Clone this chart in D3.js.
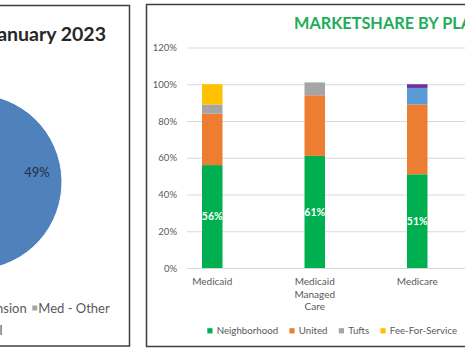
<!DOCTYPE html>
<html>
<head>
<meta charset="utf-8">
<script src="https://cdn.jsdelivr.net/npm/d3@7"></script>
<style>
  body { margin: 0; background: #fff; }
  svg { display: block; font-family: Lato, "Open Sans", sans-serif; }
</style>
</head>
<body>
<svg id="chart" width="465" height="351"></svg>
<script>
// left pie (mostly cropped off)
const pieLabels = ["Medicare", "Med - Expansion", "Med - Other", "Dual"];
const pieValues = [0.49, 0.33, 0.12, 0.06];
const pieColors = ["#4f81bd", "#ed7d31", "#a5a5a5", "#ffc000"];

// right stacked bars
const categories = ["Medicaid", "Medicaid Managed Care", "Medicare"];
const categoryLines = [["Medicaid"], ["Medicaid", "Managed", "Care"], ["Medicare"]];
const seriesNames = ["Neighborhood", "United", "Tufts", "Fee-For-Service", "BCBS", "Other"];
const seriesColors = ["#00b050", "#ed7d31", "#a5a5a5", "#ffc000", "#5b9bd5", "#7030a0"];
const neighborhood = [0.56, 0.61, 0.51];
const united = [0.28, 0.33, 0.38];
const tufts = [0.05, 0.07, 0];
const feeForService = [0.11, 0, 0];
const bcbs = [0, 0, 0.09];
const other = [0, 0, 0.02];
const yTicks = [0, 0.2, 0.4, 0.6, 0.8, 1.0, 1.2];

const svg = d3.select("#chart");

// ---- panel frames
svg.append("rect")
  .attr("x", -20).attr("y", 5.5)
  .attr("width", 149.5).attr("height", 340.5)
  .attr("fill", "none").attr("stroke", "#3f3f3f").attr("stroke-width", 1.5);

svg.append("rect")
  .attr("x", 146.5).attr("y", 4.5)
  .attr("width", 400).attr("height", 342)
  .attr("fill", "none").attr("stroke", "#3f3f3f").attr("stroke-width", 1.5);

// ---- left: pie
svg.append("text")
  .attr("x", 106).attr("y", 41)
  .attr("text-anchor", "end")
  .attr("font-size", 19.5).attr("font-weight", 700)
  .attr("fill", "#262626")
  .text("January 2023");

const pieG = svg.append("g").attr("transform", "translate(-26,182)");
const pie = d3.pie().sort(null).value((d) => d);
const arcs = pie(pieValues);
const arc = d3.arc().innerRadius(0).outerRadius(88);
const labelArc = d3.arc().innerRadius(63).outerRadius(63);

pieG.selectAll("path")
  .data(arcs)
  .join("path")
  .attr("d", arc)
  .attr("fill", (d, i) => pieColors[i])
  .attr("stroke", "#fff")
  .attr("stroke-width", 1);

pieG.selectAll(".pie-label")
  .data(arcs)
  .join("text")
  .attr("class", "pie-label")
  .attr("transform", (d) => `translate(${labelArc.centroid(d)})`)
  .attr("dy", "-0.2em")
  .attr("text-anchor", "middle")
  .attr("font-size", 13)
  .attr("fill", "#1f2f45")
  .text((d) => d3.format(".0%")(d.data));

// pie legend: first row ends with "Med - Other", second row holds the rest
const pieLegend = svg.append("g").attr("font-size", 13).attr("fill", "#595959");
const row1 = pieLegend.append("g");
let px = 0;
const row1Pos = [];
pieLabels.slice(0, 3).forEach((label, i) => {
  row1.append("rect")
    .attr("x", px).attr("y", 305.5)
    .attr("width", 5).attr("height", 5)
    .attr("fill", pieColors[i]);
  const t = row1.append("text").attr("x", px + 6).attr("y", 312.5).text(label);
  row1Pos.push(px);
  px += 6 + t.node().getComputedTextLength() + 5.6;
});
row1.attr("transform", `translate(${32.3 - row1Pos[2]},0)`);

const row2 = pieLegend.append("g");
row2.append("rect")
  .attr("x", 0).attr("y", 327.5)
  .attr("width", 5).attr("height", 5)
  .attr("fill", pieColors[3]);
const t2 = row2.append("text").attr("x", 6).attr("y", 334.5).text(pieLabels[3]);
row2.attr("transform", `translate(${2.5 - 6 - t2.node().getComputedTextLength()},0)`);

// ---- right: stacked bars
svg.append("text")
  .attr("x", 294).attr("y", 28.7)
  .attr("font-size", 16.3).attr("font-weight", 700)
  .attr("fill", "#22ad58")
  .text("MARKETSHARE BY PLAN");

const y = d3.scaleLinear().domain([0, 1.2]).range([268, 47.5]);
const x = d3.scaleBand()
  .domain(categories)
  .range([161, 161 + 102.5 * categories.length])
  .paddingInner(0.8)
  .paddingOuter(0.4);

svg.append("g")
  .attr("transform", "translate(187,0)")
  .call(d3.axisLeft(y).tickValues(yTicks).tickFormat(d3.format(".0%"))
    .tickSizeInner(-300).tickSizeOuter(0).tickPadding(10))
  .call((g) => {
    g.select(".domain").remove();
    g.selectAll(".tick line").attr("stroke", "#d9d9d9");
    g.selectAll(".tick text")
      .attr("x", -10)
      .attr("font-family", "Lato, sans-serif")
      .attr("font-size", 9.5)
      .attr("fill", "#595959");
  });

const table = categories.map((c, i) => ({
  category: c,
  Neighborhood: neighborhood[i],
  United: united[i],
  Tufts: tufts[i],
  "Fee-For-Service": feeForService[i],
  BCBS: bcbs[i],
  Other: other[i],
}));
const series = d3.stack().keys(seriesNames)(table);

svg.append("g")
  .selectAll("g")
  .data(series)
  .join("g")
  .attr("fill", (d, i) => seriesColors[i])
  .selectAll("rect")
  .data((d) => d)
  .join("rect")
  .attr("x", (d) => x(d.data.category))
  .attr("width", x.bandwidth())
  .attr("y", (d) => y(d[1]))
  .attr("height", (d) => y(d[0]) - y(d[1]));

// value labels on the Neighborhood segment
svg.append("g")
  .selectAll("text")
  .data(series[0])
  .join("text")
  .attr("x", (d) => x(d.data.category) + x.bandwidth() / 2)
  .attr("y", (d) => (y(d[0]) + y(d[1])) / 2)
  .attr("dy", "0.35em")
  .attr("text-anchor", "middle")
  .attr("font-size", 10.5)
  .attr("font-weight", 700)
  .attr("fill", "#fff")
  .text((d) => d3.format(".0%")(d[1] - d[0]));

svg.append("g")
  .attr("transform", "translate(0,268)")
  .call(d3.axisBottom(x).tickSize(0))
  .call((g) => {
    g.select(".domain").remove();
    g.selectAll(".tick text")
      .attr("y", null).attr("dy", null)
      .attr("font-family", "Lato, sans-serif")
      .attr("font-size", 10)
      .attr("fill", "#595959")
      .text(null)
      .each(function (d) {
        const lines = categoryLines[categories.indexOf(d)];
        d3.select(this).selectAll("tspan")
          .data(lines)
          .join("tspan")
          .attr("x", 0)
          .attr("y", (l, i) => 17 + i * 12.7)
          .text((l) => l);
      });
  });

// legend
const legend = svg.append("g").attr("font-size", 9.7).attr("fill", "#595959");
let lx = 207.3;
seriesNames.forEach((name, i) => {
  legend.append("rect")
    .attr("x", lx).attr("y", 328.2)
    .attr("width", 5.2).attr("height", 5.2)
    .attr("fill", seriesColors[i]);
  const t = legend.append("text").attr("x", lx + 9.4).attr("y", 334.3).text(name);
  lx += 9.4 + t.node().getComputedTextLength() + 11.3;
});
</script>
</body>
</html>
